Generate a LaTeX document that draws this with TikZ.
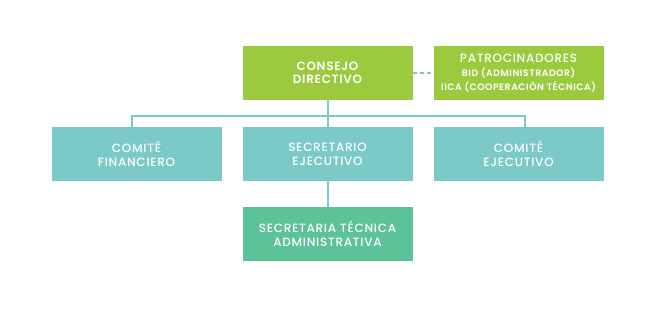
\documentclass[tikz,border=0pt]{standalone}
\usepackage{fontspec}
\setmainfont{Poppins}[UprightFont=* Medium, BoldFont=* SemiBold, LetterSpace=6]
\usepackage{xcolor}
\usetikzlibrary{positioning,calc}
\definecolor{leaf}{HTML}{9BCA3E}
\definecolor{aqua}{HTML}{7BCAC7}
\definecolor{jade}{HTML}{5CC298}
\tikzset{
    block/.style={rectangle, minimum width=170pt, minimum height=54pt, inner sep=2pt, outer sep=0pt, align=center, text=white, font=\fontsize{12}{13.8}\selectfont},
    link/.style={line width=2pt, color=aqua},
    dashlink/.style={line width=2pt, color=aqua, dash pattern=on 4pt off 3pt}
}
\begin{document}
\begin{tikzpicture}[x=1pt, y=-1pt, node distance=21pt]

\useasboundingbox[fill=white] (0,0) rectangle (659,311);

\node[block, fill=leaf, font=\fontsize{12}{13.4}\selectfont\bfseries] (consejo) at (327.5,73) {CONSEJO\\DIRECTIVO};

\node[block, fill=leaf, right=21pt of consejo] (patro) {{\fontsize{12}{12.5}\selectfont PATROCINADORES}\\{\fontsize{9.3}{12.4}\selectfont\bfseries BID (ADMINISTRADOR)}\\{\fontsize{9.3}{12.4}\selectfont\bfseries IICA (COOPERACIÓN TÉCNICA)}};

\node[block, fill=aqua, below=27pt of consejo] (secejec) {SECRETARIO\\EJECUTIVO};

\node[block, fill=aqua, left=21pt of secejec] (comfin) {COMITÉ\\FINANCIERO};

\node[block, fill=aqua, right=21pt of secejec] (comejec) {COMITÉ\\EJECUTIVO};

\node[block, fill=jade, below=26pt of secejec] (sectec) {SECRETARIA TÉCNICA\\ADMINISTRATIVA};

\coordinate (bus) at ($(consejo.south)!0.58!(secejec.north)$);

\draw[dashlink] (consejo.east) -- (patro.west);
\draw[link] (consejo.south) -- (secejec.north);
\draw[link] ([xshift=-5pt]comfin.north) |- (bus) -| ([xshift=6pt]comejec.north);
\draw[link] (secejec.south) -- (sectec.north);

\end{tikzpicture}
\end{document}
